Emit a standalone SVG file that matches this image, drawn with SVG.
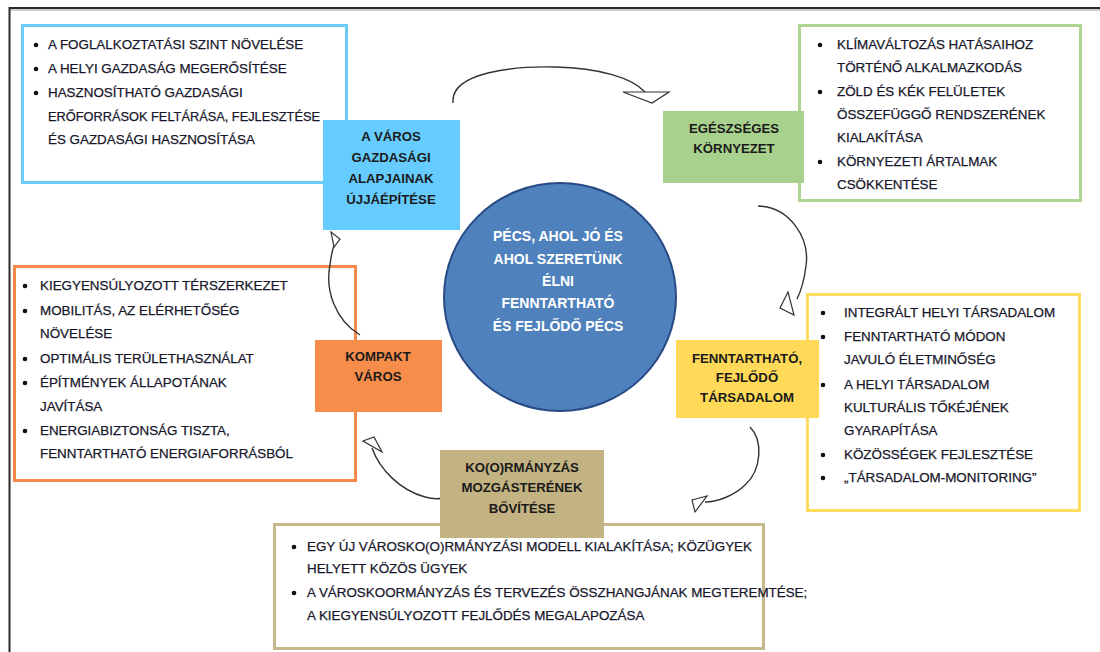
<svg xmlns="http://www.w3.org/2000/svg" width="1100" height="652" viewBox="0 0 1100 652">
<style>
.li{font-family:"Liberation Sans",Arial,sans-serif;font-size:13.4px;fill:#17172b;stroke:#17172b;stroke-width:0.25}
.hd{font-family:"Liberation Sans",Arial,sans-serif;font-size:13.2px;font-weight:bold;fill:#1a1a1a;text-anchor:middle}
.ct{font-family:"Liberation Sans",Arial,sans-serif;font-size:14px;font-weight:bold;fill:#ffffff;text-anchor:middle}
.bl{fill:#111}
.box{fill:#ffffff;stroke-width:3}
.arr{fill:none;stroke:#333;stroke-width:1.4}
.ah{fill:#ffffff;stroke:#333;stroke-width:1.2;stroke-linejoin:miter}
</style>
<rect width="1100" height="652" fill="#ffffff"/>
<g id="frame">
<line x1="9" y1="8" x2="1100" y2="8" stroke="#2a2a2a" stroke-width="2"/>
<line x1="9" y1="10" x2="1100" y2="10" stroke="#9a9a9a" stroke-width="1"/>
<line x1="9.5" y1="7" x2="9.5" y2="652" stroke="#2a2a2a" stroke-width="2"/>
</g>

<g id="list-gazdasag">
<rect class="box" x="22.5" y="25.5" width="324" height="157" stroke="#6dccf8"/>
<circle class="bl" cx="36" cy="45" r="2.3"/>
<circle class="bl" cx="36" cy="69" r="2.3"/>
<circle class="bl" cx="36" cy="93" r="2.3"/>
<text class="li" x="48" y="49">A FOGLALKOZTATÁSI SZINT NÖVELÉSE</text>
<text class="li" x="48" y="73">A HELYI GAZDASÁG MEGERŐSÍTÉSE</text>
<text class="li" x="48" y="97">HASZNOSÍTHATÓ GAZDASÁGI</text>
<text class="li" x="48" y="121" textLength="272" lengthAdjust="spacingAndGlyphs">ERŐFORRÁSOK FELTÁRÁSA, FEJLESZTÉSE</text>
<text class="li" x="48" y="144">ÉS GAZDASÁGI HASZNOSÍTÁSA</text>
</g>

<g id="list-kornyezet">
<rect class="box" x="799.5" y="25.5" width="281" height="175" stroke="#afd494"/>
<circle class="bl" cx="820" cy="45" r="2.3"/>
<circle class="bl" cx="820" cy="92" r="2.3"/>
<circle class="bl" cx="820" cy="162" r="2.3"/>
<text class="li" x="837" y="49">KLÍMAVÁLTOZÁS HATÁSAIHOZ</text>
<text class="li" x="837" y="72">TÖRTÉNŐ ALKALMAZKODÁS</text>
<text class="li" x="837" y="96">ZÖLD ÉS KÉK FELÜLETEK</text>
<text class="li" x="837" y="119">ÖSSZEFÜGGŐ RENDSZERÉNEK</text>
<text class="li" x="837" y="142">KIALAKÍTÁSA</text>
<text class="li" x="837" y="166">KÖRNYEZETI ÁRTALMAK</text>
<text class="li" x="837" y="189">CSÖKKENTÉSE</text>
</g>

<g id="list-tarsadalom">
<rect class="box" x="807.5" y="294.5" width="272" height="216" stroke="#ffdc5e"/>
<circle class="bl" cx="823" cy="313" r="2.3"/>
<circle class="bl" cx="823" cy="337" r="2.3"/>
<circle class="bl" cx="823" cy="385" r="2.3"/>
<circle class="bl" cx="823" cy="455" r="2.3"/>
<circle class="bl" cx="823" cy="478" r="2.3"/>
<text class="li" x="844" y="317">INTEGRÁLT HELYI TÁRSADALOM</text>
<text class="li" x="844" y="341">FENNTARTHATÓ MÓDON</text>
<text class="li" x="844" y="364">JAVULÓ ÉLETMINŐSÉG</text>
<text class="li" x="844" y="389">A HELYI TÁRSADALOM</text>
<text class="li" x="844" y="412">KULTURÁLIS TŐKÉJÉNEK</text>
<text class="li" x="844" y="435">GYARAPÍTÁSA</text>
<text class="li" x="844" y="459">KÖZÖSSÉGEK FEJLESZTÉSE</text>
<text class="li" x="844" y="482">„TÁRSADALOM-MONITORING”</text>
</g>

<g id="list-kompakt">
<rect class="box" x="14.5" y="266.5" width="341" height="214" stroke="#f4894a"/>
<circle class="bl" cx="25" cy="286" r="2.3"/>
<circle class="bl" cx="25" cy="311" r="2.3"/>
<circle class="bl" cx="25" cy="359" r="2.3"/>
<circle class="bl" cx="25" cy="383" r="2.3"/>
<circle class="bl" cx="25" cy="431" r="2.3"/>
<text class="li" x="40" y="290">KIEGYENSÚLYOZOTT TÉRSZERKEZET</text>
<text class="li" x="40" y="315">MOBILITÁS, AZ ELÉRHETŐSÉG</text>
<text class="li" x="40" y="338">NÖVELÉSE</text>
<text class="li" x="40" y="363">OPTIMÁLIS TERÜLETHASZNÁLAT</text>
<text class="li" x="40" y="387">ÉPÍTMÉNYEK ÁLLAPOTÁNAK</text>
<text class="li" x="40" y="411">JAVÍTÁSA</text>
<text class="li" x="40" y="435">ENERGIABIZTONSÁG TISZTA,</text>
<text class="li" x="40" y="458">FENNTARTHATÓ ENERGIAFORRÁSBÓL</text>
</g>

<g id="list-kormanyzas">
<rect class="box" x="274.5" y="524.5" width="489" height="124" stroke="#c6b78d"/>
<circle class="bl" cx="294" cy="547" r="2.3"/>
<circle class="bl" cx="294" cy="593" r="2.3"/>
<text class="li" x="307" y="551">EGY ÚJ VÁROSKO(O)RMÁNYZÁSI MODELL KIALAKÍTÁSA; KÖZÜGYEK</text>
<text class="li" x="307" y="573">HELYETT KÖZÖS ÜGYEK</text>
<text class="li" x="307" y="597">A VÁROSKOORMÁNYZÁS ÉS TERVEZÉS ÖSSZHANGJÁNAK MEGTEREMTÉSE;</text>
<text class="li" x="307" y="620">A KIEGYENSÚLYOZOTT FEJLŐDÉS MEGALAPOZÁSA</text>
</g>

<g id="connectors">
<path class="arr" d="M453,103 C450,72 515,66 555,67 C600,68 632,78 645,92"/>
<polygon class="ah" points="623,92 669,92 652,103"/>
<path class="arr" d="M758,206 C790,207 810,238 806,266 C804,282 801,291 797,299"/>
<polygon class="ah" points="788,292 780,308 794,315"/>
<path class="arr" d="M750,427 C763,440 762,470 745,485 C735,495 718,502 705,502"/>
<polygon class="ah" points="692,500 707,496 695,512"/>
<path class="arr" d="M456,489 C450,500 435,500 425,497 C400,490 380,470 372,448"/>
<polygon class="ah" points="363,441 374,437 382,452"/>
<path class="arr" d="M360,335 C335,320 325,290 330,265 C331,255 333,248 335,242"/>
<polygon class="ah" points="331,232 340,239 334,247"/>
</g>

<g id="center">
<ellipse cx="560" cy="297" rx="116" ry="114" fill="#4f81bd" stroke="#274a85" stroke-width="2"/>
<text class="ct" x="558" y="241">PÉCS, AHOL JÓ ÉS</text>
<text class="ct" x="558" y="264">AHOL SZERETÜNK</text>
<text class="ct" x="558" y="286">ÉLNI</text>
<text class="ct" x="558" y="308">FENNTARTHATÓ</text>
<text class="ct" x="558" y="331">ÉS FEJLŐDŐ PÉCS</text>
</g>

<g id="node-gazdasag">
<rect x="323" y="120" width="137" height="110" fill="#66ccff"/>
<text class="hd" x="391" y="141">A VÁROS</text>
<text class="hd" x="391" y="162">GAZDASÁGI</text>
<text class="hd" x="391" y="183">ALAPJAINAK</text>
<text class="hd" x="391" y="204">ÚJJÁÉPÍTÉSE</text>
</g>

<g id="node-kornyezet">
<rect x="663" y="111" width="141" height="72" fill="#a9d18e"/>
<text class="hd" x="734" y="133">EGÉSZSÉGES</text>
<text class="hd" x="734" y="153">KÖRNYEZET</text>
</g>

<g id="node-tarsadalom">
<rect x="676" y="340" width="143" height="78" fill="#ffd957"/>
<text class="hd" x="747" y="363">FENNTARTHATÓ,</text>
<text class="hd" x="747" y="382">FEJLŐDŐ</text>
<text class="hd" x="747" y="402">TÁRSADALOM</text>
</g>

<g id="node-kompakt">
<rect x="315" y="340" width="127" height="72" fill="#f68d4b"/>
<text class="hd" x="378" y="361">KOMPAKT</text>
<text class="hd" x="378" y="381">VÁROS</text>
</g>

<g id="node-kormanyzas">
<rect x="440" y="450" width="164" height="88" fill="#c3b282"/>
<text class="hd" x="522" y="472">KO(O)RMÁNYZÁS</text>
<text class="hd" x="522" y="492">MOZGÁSTERÉNEK</text>
<text class="hd" x="522" y="513">BŐVÍTÉSE</text>
</g>
</svg>
